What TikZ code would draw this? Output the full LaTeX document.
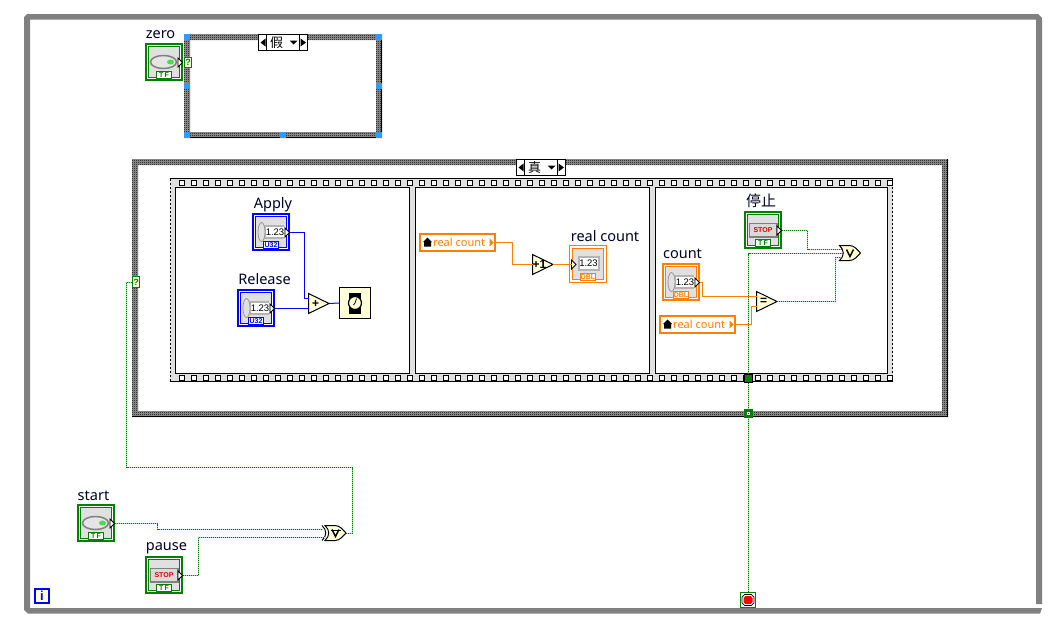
\documentclass[tikz,border=0pt]{standalone}
\usepackage{fontspec}
\usetikzlibrary{patterns}
\setmainfont{Noto Sans}
\newfontfamily\cjkfont{Noto Sans CJK SC}
\newfontfamily\tagfont{Liberation Sans}
\definecolor{framegrey}{HTML}{808080}
\definecolor{panelgrey}{HTML}{E0E0E0}
\definecolor{boolgreen}{HTML}{007F00}
\definecolor{dotgreen}{HTML}{008000}
\definecolor{dotgap}{HTML}{A8D8A8}
\definecolor{dblorange}{HTML}{FF8000}
\definecolor{intblue}{HTML}{0000FF}
\definecolor{primyellow}{HTML}{FFFFD8}
\definecolor{handleblue}{HTML}{3399FF}
\definecolor{spinner}{HTML}{B4B4B4}
\definecolor{checkbase}{HTML}{9A9A9A}
% one-pixel checkerboard for structure borders
\pgfdeclarepatternformonly{pixelcheck}{\pgfqpoint{0pt}{0pt}}{\pgfqpoint{2pt}{2pt}}{\pgfqpoint{2pt}{2pt}}{%
  \pgfpathrectangle{\pgfqpoint{0pt}{0pt}}{\pgfqpoint{1pt}{1pt}}%
  \pgfpathrectangle{\pgfqpoint{1pt}{1pt}}{\pgfqpoint{1pt}{1pt}}%
  \pgfusepath{fill}}
\tikzset{
  x=1pt,y=-1pt,
  lbl/.style={anchor=base,inner sep=0pt,font=\fontsize{14.5}{14.5}\selectfont,text=black!85!blue},
  boolwire/.style={preaction={draw=dotgap,line width=1pt,solid},dotgreen,line width=1pt,dash pattern=on 1pt off 1pt},
  intwire/.style={intblue,line width=1pt},
  dblwire/.style={dblorange,line width=1pt},
  ctlouter/.style={rectangle,draw,line width=2pt,minimum size=36pt,inner sep=0pt,fill=white},
  tagbox/.style={rectangle,draw,line width=1pt,fill=white,inner sep=0pt,minimum width=15pt,minimum height=7pt,font=\tagfont\bfseries\fontsize{7}{7}\selectfont},
  valuetext/.style={inner sep=0pt,font=\tagfont\fontsize{9.5}{9.5}\selectfont},
  handle/.style={fill=handleblue},
  primsym/.style={inner sep=0pt,font=\tagfont\bfseries\fontsize{12}{12}\selectfont},
  localvar/.style={rectangle,draw=dblorange,line width=2pt,fill=white,minimum width=75pt,minimum height=16.5pt,inner sep=0pt},
  tunnel/.style={rectangle,draw=boolgreen,line width=1pt,fill=primyellow,minimum width=7pt,minimum height=10.5pt,inner sep=0pt,
     text=boolgreen,font=\tagfont\bfseries\fontsize{9}{9}\selectfont},
  selbox/.style={rectangle,draw=black,line width=1pt,fill=white,minimum width=49pt,minimum height=16pt,inner sep=0pt},
}
% checkered structure border with the darker lower and right edges
\newcommand\chkframe[5]{% x1,y1,x2,y2,thickness
  \fill[checkbase,even odd rule]
    (#1,#2) rectangle (#3,#4) (#1+#5,#2+#5) rectangle (#3-#5,#4-#5);
  \fill[pattern=pixelcheck,pattern color=black,even odd rule]
    (#1,#2) rectangle (#3,#4) (#1+#5,#2+#5) rectangle (#3-#5,#4-#5);
  \draw[black,line width=1pt] (#3-0.5,#2) -- (#3-0.5,#4) (#1,#4-0.5) -- (#3,#4-0.5);
}
% case selector with its two arrows and drop-down mark
\newcommand\selector[4]{% name,left x,top y,text
  \node[selbox] (#1) at (#2+24.5,#3+8) {};
  \begin{scope}[shift={(#2,#3)}]
    \draw[black,line width=1pt] (8,0) -- (8,16) (41,0) -- (41,16);
    \fill[black] (7,4) -- (2,8) -- (7,12) -- cycle;
    \fill[black] (42,4) -- (47.5,8) -- (42,12) -- cycle;
    \fill[black] (31,6) -- (39,6) -- (35,10) -- cycle;
    \node[inner sep=0pt,font=\cjkfont\fontsize{13}{13}\selectfont] (#1-text) at (18,8) {#4};
  \end{scope}
}
% front panel terminal: frame, inner frame and data-type tag
\newcommand\ctlbox[5]{% name,x,y,colour,tag
  \begin{scope}[shift={(#2,#3)}]
    \node[ctlouter,draw=#4] (#1) at (19,19) {};
    \draw[#4,line width=1pt,fill=panelgrey] (3.5,3.5) rectangle (34.5,34.5);
    \node[tagbox,draw=#4,text=#4] (#1-tag) at (19,32) {#5};
    \coordinate (#1-out) at (38,19.5);
    \coordinate (#1-in) at (2,19.5);
  \end{scope}
}
\newcommand\outmark[2]{% terminal arrow on the right side
  \begin{scope}[shift={(#1,#2)}]
    \draw[black,line width=.8pt,fill=white] (33,15) -- (37.5,19.5) -- (33,24) -- cycle;
  \end{scope}
}
\newcommand\ctlnum[5]{%
  \ctlbox{#1}{#2}{#3}{#4}{#5}
  \begin{scope}[shift={(#2,#3)}]
    \fill[spinner] (7,12) rectangle (32,26);
    \fill[black!12] (9.5,19) ellipse (3.5 and 9.5);
    \draw[black!40,line width=.8pt] (9.5,19) ellipse (3.5 and 9.5);
    \node[valuetext,fill=white,minimum width=17pt,minimum height=10.5pt] (#1-val) at (23,19) {1.23};
  \end{scope}
  \outmark{#2}{#3}
}
\newcommand\ctlbool[4]{%
  \ctlbox{#1}{#2}{#3}{boolgreen}{T\,F}
  \begin{scope}[shift={(#2,#3)}]
    \draw[black!50,line width=1.5pt,fill=black!10] (18.5,19) ellipse (13 and 6.5);
    \fill[green!80!black!70!white] (25.5,19) ellipse (3.5 and 2.5);
  \end{scope}
  \outmark{#2}{#3}
}
\newcommand\ctlstop[3]{%
  \ctlbox{#1}{#2}{#3}{boolgreen}{T\,F}
  \begin{scope}[shift={(#2,#3)}]
    \draw[black!50,line width=1.5pt,fill=black!15] (5.5,12.5) rectangle (33,26);
    \node[inner sep=0pt,text=red!85!black,font=\tagfont\bfseries\fontsize{7}{7}\selectfont] (#1-val) at (19,19.5) {STOP};
  \end{scope}
  \outmark{#2}{#3}
}
% triangular numeric primitive
\newcommand\prim[4]{% name,x,centre y,symbol
  \begin{scope}[shift={(#2,#3)}]
    \draw[black,line width=1pt,fill=primyellow] (0,-10) -- (20.5,0) -- (0,10) -- cycle;
    \node[primsym] (#1) at (7,0) {#4};
    \coordinate (#1-in1) at (0,-5);
    \coordinate (#1-in2) at (0,5);
    \coordinate (#1-in) at (0,0);
    \coordinate (#1-out) at (20.5,0);
  \end{scope}
}
% Boolean gate outline with the "or" mark
\newcommand\gatebody[2]{%
  \begin{scope}[shift={(#1,#2)}]
    \draw[black,line width=1pt,fill=primyellow] (0,-7.5) .. controls (5,-3) and (5,3) .. (0,7.5)
      -- (10,7.5) .. controls (15,7.5) and (18,3) .. (21,0) .. controls (18,-3) and (15,-7.5) .. (10,-7.5) -- cycle;
    \draw[black,line width=1.5pt] (7,-3.5) -- (10.5,3.5) -- (14,-3.5);
  \end{scope}
}
% read-direction local variable
\newcommand\localread[3]{% name,centre x,centre y
  \node[localvar] (#1) at (#2,#3) {};
  \begin{scope}[shift={(#2,#3)}]
    \fill[black] (-34.5,-0.5) -- (-30,-5) -- (-25.5,-0.5) -- (-26.5,-0.5) -- (-26.5,4) -- (-33.5,4) -- (-33.5,-0.5) -- cycle;
    \node[inner sep=0pt,anchor=base west,text=dblorange,font=\fontsize{11}{11}\selectfont] (#1-name) at (-24.5,4) {real count};
    \fill[dblorange] (32,-4) -- (36,0) -- (32,4) -- cycle;
    \coordinate (#1-out) at (38.5,0);
  \end{scope}
}
\begin{document}
\begin{tikzpicture}
\useasboundingbox (0,0) rectangle (1056,622);
\fill[white] (0,0) rectangle (1056,622);

% while-loop border
\fill[framegrey,even odd rule]
  (27,14) -- (1038,14) -- (1040,16) -- (1042,18) -- (1042,604) -- (1036,604) -- (1036,19.7) -- (30,19.7)
  -- (30,608) -- (1036,608) -- (1042,608) -- (1040,613.7) -- (28,613.7) -- (26,611.7) -- (24,610) -- (24,17) -- cycle;

% upper case structure
\chkframe{184}{34}{382}{138}{6}
\fill[white] (286,34) rectangle (287,40);
\foreach \hx/\hy in {184/34,376/34,184/132,376/132,280/34,280/132,184/83,376/83}
  \fill[handle] (\hx,\hy) rectangle ++(6,6);
\selector{caseA}{258.5}{34.5}{假}

% lower case structure
\chkframe{132}{159}{948}{417}{6}
\selector{caseB}{516.5}{159.5}{真}

% flat sequence film strip
\fill[panelgrey] (170,178) rectangle (893,382);
\draw[black,line width=1pt] (170,178.5) -- (893,178.5) (170,381.5) -- (893,381.5);
\draw[black,line width=1pt,dash pattern=on 2pt off 2pt] (170.5,179) -- (170.5,382) (892.5,179) -- (892.5,382);
\foreach \k in {0,...,59}{
  \pgfmathsetmacro\sx{179.5+12*\k}
  \draw[black,line width=1pt,fill=white] (\sx,180.5) rectangle ++(5,5);
  \draw[black,line width=1pt,fill=white] (\sx,375.5) rectangle ++(5,5);
}
\draw[black,line width=1pt,fill=white] (175.5,187.5) rectangle (409.8,373.5);
\draw[black,line width=1pt,fill=white] (415.5,187.5) rectangle (649.5,373.5);
\draw[black,line width=1pt,fill=white] (655.5,187.5) rectangle (887.5,373.5);

% first frame: wait time
\node[lbl] (applyLabel) at (273,208) {Apply};
\ctlnum{apply}{252}{213}{intblue}{U32}
\node[lbl] (releaseLabel) at (264.5,284) {Release};
\ctlnum{release}{237}{289}{intblue}{U32}
\prim{add}{308.5}{303.5}{+}
\node[rectangle,draw=black,line width=1pt,fill=primyellow,minimum size=31pt,inner sep=0pt] (wait) at (355,303) {};
\fill[black] (349,292.5) rectangle (361,313.5);
\draw[black,line width=1.2pt,fill=primyellow] (355,303) circle (6.5);
\draw[black,line width=.8pt] (355,303) -- (356.5,298.5) (355,303) -- (353.5,305);
\draw[intwire] (apply-out) -- ++(14.5,0) |- (add-in1);
\draw[intwire] (release-out) -- (add-in2);
\draw[intwire] (add-out) -- (wait.west);

% second frame: increment
\localread{rcA}{457.5}{242.5}
\prim{inc}{532.5}{264.5}{+1}
\node[lbl] (rcLabel) at (605,241) {real count};
\begin{scope}[shift={(569,245)}]
  \node[rectangle,draw=dblorange,line width=1pt,fill=white,minimum size=37pt,inner sep=0pt] (rcInd) at (19,19) {};
  \draw[dblorange,line width=1pt,fill=panelgrey] (3.5,3.5) rectangle (34.5,34.5);
  \node[tagbox,draw=dblorange,text=dblorange] (rcInd-tag) at (19,32) {DBL};
  \draw[spinner,line width=2pt,fill=white] (10,12) rectangle (29.5,24.5);
  \node[valuetext] (rcInd-val) at (19.5,18.5) {1.23};
  \draw[black,line width=.8pt,fill=white] (2.5,15) -- (7,19.5) -- (2.5,24) -- cycle;
  \coordinate (rcInd-in) at (2.5,19.5);
\end{scope}
\draw[dblwire] (rcA-out) -- ++(16,0) |- (inc-in);
\draw[dblwire] (inc-out) -- (rcInd-in);

% third frame: stop condition
\node[lbl,font=\cjkfont\fontsize{15}{15}\selectfont] (stopLabel) at (761,206) {停止};
\ctlstop{stopbtn}{744}{211}
\node[lbl] (countLabel) at (682.5,258) {count};
\ctlnum{count}{662}{263}{dblorange}{DBL}
\localread{rcB}{697.5}{324.5}
\prim{eq}{756.5}{301.5}{=}
\gatebody{839.5}{253}
\coordinate (or-in1) at (842,249.5);
\coordinate (or-in2) at (842,257.5);
\coordinate (or-in3) at (843,253.5);
\node[rectangle,draw=boolgreen,line width=1pt,fill=white,minimum size=15pt,inner sep=0pt] (stopterm) at (748,600) {};
\draw[boolwire] (stopbtn-out) -- ++(25.5,0) |- (or-in1);
\draw[boolwire] (eq-out) -- ++(58,0) |- (or-in2);
\draw[boolwire] (stopterm.north -| 748.5,0) |- (or-in3);
\draw[dblwire] (count-out) -- ++(2.5,0) |- (eq-in1);
\draw[dblwire] (rcB-out) -- ++(15,0) |- (eq-in2);

% wire tunnels on the lower borders
\node[rectangle,draw=black,line width=1pt,fill=boolgreen,minimum size=8pt,inner sep=0pt] (seqTunnel) at (748.5,378) {};
\node[rectangle,draw=boolgreen,line width=1pt,fill=white,minimum size=8pt,inner sep=0pt] (caseTunnel) at (748.5,413) {};
\fill[boolgreen] (745,409.5) rectangle (752,416.5);
\fill[white] (747,411.5) rectangle (750,414.5);
\fill[boolgreen!60!black] (748,412.5) rectangle (749,413.5);

% loop condition terminal
\filldraw[black,line width=.7pt,fill=white] (744.7,594.5) -- (751.3,594.5) -- (754,597) -- (754,603) -- (751.3,605.5) -- (744.7,605.5) -- (742,603) -- (742,597) -- cycle;
\fill[red] (745.5,596) -- (750.5,596) -- (752.5,598) -- (752.5,602) -- (750.5,604) -- (745.5,604) -- (743.5,602) -- (743.5,598) -- cycle;

% iteration terminal
\node[rectangle,draw=intblue,line width=2pt,fill=primyellow,minimum size=14pt,inner sep=0pt,text=intblue,font=\tagfont\bfseries\fontsize{13}{13}\selectfont] (iter) at (42,596) {i};

% case selectors and their Boolean inputs
\node[lbl] (zeroLabel) at (160.5,38) {zero};
\ctlbool{zero}{145}{43}{}
\node[tunnel] (zeroSel) at (188,62.5) {?};
\node[tunnel] (caseSel) at (136,282) {?};

% start / pause logic
\node[lbl] (startLabel) at (93.5,500) {start};
\ctlbool{start}{77}{504}{}
\node[lbl] (pauseLabel) at (166.5,550.5) {pause};
\ctlstop{pause}{145}{556}
\gatebody{325}{533}
\draw[black,line width=1pt] (322,525.5) .. controls (327,530) and (327,536) .. (322,540.5);
\draw[black,line width=.8pt] (331,530.5) -- (341,530.5);
\coordinate (xor-in1) at (323,529.5);
\coordinate (xor-in2) at (325,537.5);
\coordinate (xor-out) at (346,533.5);
\draw[boolwire] (start-out) -- ++(42.5,0) |- (xor-in1);
\draw[boolwire] (pause-out) -- ++(15.5,0) |- (xor-in2);
\draw[boolwire] (xor-out) -- ++(6.5,0) -- ++(0,-66) -- ++(-226,0) |- (caseSel.west);
\end{tikzpicture}
\end{document}
